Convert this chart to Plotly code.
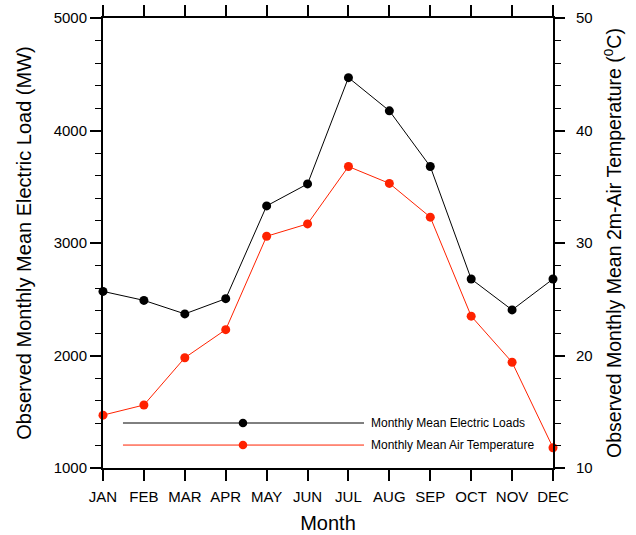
import plotly.graph_objects as go

months = ["JAN", "FEB", "MAR", "APR", "MAY", "JUN", "JUL", "AUG", "SEP", "OCT", "NOV", "DEC"]
load_mw = [2570, 2490, 2370, 2505, 3330, 3525, 4470, 4175, 3680, 2680, 2405, 2680]
air_temp_c = [14.7, 15.6, 19.8, 22.3, 30.6, 31.7, 36.8, 35.3, 32.3, 23.5, 19.4, 11.8]
legend_labels = ["Monthly Mean Electric Loads", "Monthly Mean Air Temperature"]

BLACK = "#000000"
RED = "#ff2200"
FONT = "Liberation Sans, Arial, Helvetica, sans-serif"

fig = go.Figure()
fig.add_trace(go.Scatter(
    x=months, y=load_mw, mode="lines+markers", name=legend_labels[0],
    line=dict(color=BLACK, width=1), marker=dict(color=BLACK, size=9),
    cliponaxis=False, yaxis="y"))
fig.add_trace(go.Scatter(
    x=months, y=air_temp_c, mode="lines+markers", name=legend_labels[1],
    line=dict(color=RED, width=1), marker=dict(color=RED, size=9),
    cliponaxis=False, yaxis="y2"))

# hand-drawn legend inside the plot area (long sample lines with a centred marker)
shapes = []
annotations = []
for yk, color, label in [(0.10, BLACK, legend_labels[0]), (0.051, RED, legend_labels[1])]:
    shapes.append(dict(type="line", xref="paper", yref="paper", x0=0.0444, x1=0.58,
                       y0=yk, y1=yk, line=dict(color=color, width=1)))
    r = 0.0095
    shapes.append(dict(type="circle", xref="paper", yref="paper", x0=0.311 - r, x1=0.311 + r,
                       y0=yk - r, y1=yk + r, fillcolor=color, line=dict(color=color, width=0)))
    annotations.append(dict(xref="paper", yref="paper", x=0.592, y=yk, text=label,
                            showarrow=False, xanchor="left", yanchor="middle",
                            font=dict(family=FONT, size=12, color=BLACK)))

fig.update_layout(
    width=636, height=535,
    margin=dict(l=103, r=83, t=18, b=67, autoexpand=False),
    paper_bgcolor="white", plot_bgcolor="white",
    showlegend=False,
    font=dict(family=FONT, color=BLACK),
    shapes=shapes, annotations=annotations,
    xaxis=dict(
        type="category", range=[0, 11], showgrid=False, zeroline=False, automargin=False,
        showline=True, linecolor=BLACK, linewidth=2, mirror="allticks",
        ticks="outside", ticklen=11, tickwidth=1.5, tickcolor=BLACK,
        ticklabelstandoff=3,
        tickfont=dict(size=15, family=FONT),
        title=dict(text="Month", font=dict(size=20, family=FONT), standoff=12),
    ),
    yaxis=dict(
        range=[1000, 5000], dtick=1000, showgrid=False, zeroline=False, automargin=False,
        showline=True, linecolor=BLACK, linewidth=2,
        ticks="outside", ticklen=11, tickwidth=1.5, tickcolor=BLACK,
        minor=dict(dtick=200, ticks="outside", ticklen=6, tickwidth=1, tickcolor=BLACK),
        tickfont=dict(size=15, family=FONT),
        title=dict(text="Observed Monthly Mean Electric Load (MW)",
                   font=dict(size=20, family=FONT), standoff=17),
    ),
    yaxis2=dict(
        range=[10, 50], dtick=10, overlaying="y", side="right",
        showgrid=False, zeroline=False, automargin=False,
        showline=True, linecolor=BLACK, linewidth=2,
        ticks="outside", ticklen=10, tickwidth=1.5, tickcolor=BLACK,
        ticklabelstandoff=8,
        minor=dict(dtick=2, ticks="outside", ticklen=6, tickwidth=1, tickcolor=BLACK),
        tickfont=dict(size=15, family=FONT),
        title=dict(text="Observed Monthly Mean 2m-Air Temperature (<sup>0</sup>C)",
                   font=dict(size=19.5, family=FONT), standoff=16),
    ),
)

fig.write_html("out.html")
